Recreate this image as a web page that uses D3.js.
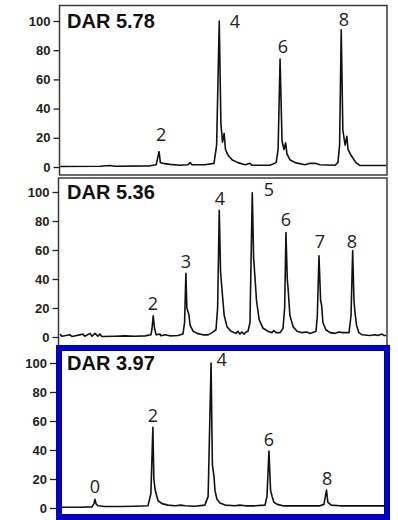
<!DOCTYPE html>
<html>
<head>
<meta charset="utf-8">
<script src="https://cdn.jsdelivr.net/npm/d3@7"></script>
<style>
  html, body { margin: 0; padding: 0; background: #fff; }
  svg { display: block; }
</style>
</head>
<body>
<div id="chart"></div>
<script>
// y ticks shared by all three chromatograms
const yTicks = [0, 20, 40, 60, 80, 100];
const darLabels = ['DAR 5.78', 'DAR 5.36', 'DAR 3.97'];

// traces: [retention (0-100 of run), intensity %]
const trace1 = [
  [0, 0.3], [12.2, 0.5], [15.3, 1.0], [16.8, 0.5], [27.5, 0.8], [29.4, 1.5],
  [30.3, 10.5], [30.7, 3], [31.5, 2.5], [33.6, 1.8], [36.7, 1.2], [39.1, 1.5],
  [39.8, 3], [40.4, 1.5], [44.3, 1.5], [47.1, 2.5], [47.9, 15], [48.7, 100],
  [49.2, 30], [49.7, 17], [50.2, 23], [50.6, 12], [51.4, 8], [52.6, 5],
  [54.4, 3], [56.6, 1.5], [58.1, 2.5], [58.7, 1.2], [64.2, 1.2], [66.1, 3],
  [66.7, 12], [67.3, 74], [67.9, 18], [68.5, 12], [69.0, 16.6], [69.4, 9],
  [70.3, 5], [71.9, 3], [74.9, 1.5], [76.5, 2.5], [78.0, 2.5], [79.5, 1.5],
  [84.1, 1.2], [85.0, 3], [85.5, 15], [86.0, 94], [86.5, 25], [87.2, 15],
  [87.7, 21], [88.1, 12], [89.0, 8], [89.6, 6], [90.5, 3], [91.7, 1.0], [100, 1.0]
];
const trace2 = [
  [0, 2], [0.6, 0.5], [3.1, 1.5], [3.7, 0.3], [7.0, 2], [7.6, 0.5], [9.2, 2.5],
  [9.8, 0.5], [10.7, 2.5], [11.6, 0.5], [12.2, 2], [12.8, 0.3], [16.8, 0.5],
  [19.9, 0.8], [22.9, 0.5], [26.0, 0.8], [27.8, 1.5], [28.1, 5], [28.5, 14.6],
  [28.9, 6], [29.4, 1.5], [30.6, 2], [30.9, 0.8], [32.1, 1.5], [33.6, 0.8],
  [36.1, 1], [37.6, 2], [38.1, 10], [38.5, 44], [38.8, 20], [39.4, 15.7],
  [39.8, 8], [40.7, 4], [41.9, 2.5], [43.7, 1.5], [45.3, 1.5], [46.5, 3],
  [47.7, 5], [48.2, 20], [48.7, 87.4], [49.1, 45], [49.6, 31], [50.2, 15],
  [51.1, 7], [52.3, 4], [53.8, 2.5], [54.4, 4], [55.0, 2], [55.6, 3.5],
  [56.3, 2], [56.9, 3.5], [57.5, 4], [58.1, 10], [58.8, 99.5], [59.2, 55],
  [59.6, 42], [60.1, 25], [60.9, 12], [62.1, 6], [63.6, 4], [64.8, 3],
  [65.4, 4.5], [66.1, 3], [67.3, 3], [68.2, 6], [68.7, 20], [69.1, 72],
  [69.5, 40], [69.8, 32], [70.3, 15], [71.3, 7], [72.5, 4], [74.0, 3],
  [75.5, 3.5], [76.3, 2.5], [77.1, 3], [78.3, 4], [78.7, 15], [79.2, 56],
  [79.7, 25], [80.0, 22], [80.4, 10], [81.3, 5], [82.6, 3], [84.1, 2.5],
  [85.2, 3.5], [86.5, 3], [88.4, 3], [89.0, 15], [89.5, 59.6], [89.9, 25],
  [90.2, 17], [90.7, 8], [91.4, 3], [92.4, 1.5], [94.8, 1], [96.3, 1.5],
  [97.2, 1], [98.5, 2], [99.1, 1], [100, 1]
];
const trace3 = [
  [0, 0.5], [6.1, 0.5], [9.8, 0.8], [10.4, 3], [10.7, 6], [11.0, 3], [11.6, 1.5],
  [13.8, 1], [18.3, 1], [22.9, 1.2], [26.9, 1.5], [27.8, 10], [28.4, 55.6],
  [28.7, 20], [29.1, 12.4], [29.5, 9], [30.0, 5], [31.2, 3], [33.0, 2],
  [35.2, 1.5], [37.0, 2], [38.2, 1.5], [41.3, 1.2], [44.3, 2], [45.3, 8],
  [46.2, 100], [46.6, 30], [47.1, 21.6], [47.4, 12], [48.0, 6], [48.9, 3.5],
  [50.5, 2], [53.5, 1.5], [55.0, 2], [56.6, 1.5], [59.6, 1.5], [62.7, 2],
  [63.3, 8], [63.9, 39.3], [64.4, 12], [64.9, 7.8], [65.4, 4], [66.4, 2.5],
  [68.2, 1.5], [73.4, 1.5], [79.5, 1.5], [80.7, 2.5], [81.5, 12.4], [81.9, 4],
  [82.9, 2], [85.6, 1.5], [100, 1.5]
];

// peak annotations: [text, retention, intensity]
const peaks1 = [['2', 30.9, 17.5], ['4', 53.5, 95.2], ['6', 68.2, 78], ['8', 86.8, 96.6]];
const peaks2 = [['2', 28.4, 18.6], ['3', 38.5, 47.6], ['4', 48.9, 91], ['5', 63.9, 97.2],
                ['6', 69.1, 76.6], ['7', 79.5, 61.4], ['8', 89.3, 61.4]];
const peaks3 = [['0', 10.7, 10.3], ['2', 28.4, 59.3], ['4', 49.4, 97.9], ['6', 63.9, 42.8], ['8', 81.7, 15.9]];

const width = 398;
const height = 520;

// panel boxes and where 0 / 100 sit inside them
const panels = [
  { trace: trace1, peaks: peaks1, dar: darLabels[0], box: [59.5, 5.5, 387, 175], y0: 167, y100: 21, axisX: 59.5, stroke: '#3a3a3a', sw: 1.5 },
  { trace: trace2, peaks: peaks2, dar: darLabels[1], box: [58.5, 178, 387, 346], y0: 337, y100: 192, axisX: 58.5, stroke: '#3a3a3a', sw: 1.5 },
  { trace: trace3, peaks: peaks3, dar: darLabels[2], box: [59, 348, 387, 517], y0: 508, y100: 363, axisX: 56, stroke: '#0000c4', sw: 6 }
];

const svg = d3.select('#chart').append('svg')
  .attr('width', width)
  .attr('height', height);

svg.append('rect').attr('width', width).attr('height', height).attr('fill', '#fff');

const x = d3.scaleLinear().domain([0, 100]).range([60, 387]);

panels.forEach((p, i) => {
  const [bx0, by0, bx1, by1] = p.box;
  const y = d3.scaleLinear().domain([0, 100]).range([p.y0, p.y100]);
  const g = svg.append('g');

  const inset = p.sw / 2;
  g.append('clipPath').attr('id', 'clip' + i)
    .append('rect')
    .attr('x', bx0 + inset).attr('y', by0 + inset)
    .attr('width', bx1 - bx0 - 2 * inset).attr('height', by1 - by0 - 2 * inset);

  const line = d3.line()
    .x((d) => x(d[0]))
    .y((d) => y(d[1]));

  g.append('path')
    .datum(p.trace)
    .attr('clip-path', `url(#clip${i})`)
    .attr('fill', 'none')
    .attr('stroke', '#111')
    .attr('stroke-width', 1.6)
    .attr('stroke-linejoin', 'round')
    .attr('d', line);

  g.append('rect')
    .attr('x', bx0).attr('y', by0)
    .attr('width', bx1 - bx0).attr('height', by1 - by0)
    .attr('fill', 'none')
    .attr('stroke', p.stroke)
    .attr('stroke-width', p.sw);

  // y axis (ticks sit outside the frame)
  const axis = g.append('g')
    .attr('transform', `translate(${p.axisX},0)`)
    .call(d3.axisLeft(y).tickValues(yTicks).tickSize(6).tickPadding(3).tickSizeOuter(0));
  axis.select('.domain').remove();
  axis.selectAll('line').attr('stroke', '#222').attr('stroke-width', 1.3);
  axis.selectAll('text')
    .attr('fill', '#222')
    .style('font-family', '"Liberation Sans", Arial, sans-serif')
    .style('font-weight', 'bold')
    .style('font-size', '13px');

  g.append('text')
    .attr('x', 67)
    .attr('y', y(100) + 7)
    .style('font-family', '"Liberation Sans", Arial, sans-serif')
    .style('font-weight', 'bold')
    .style('font-size', '20px')
    .attr('fill', '#111')
    .text(p.dar);

  g.selectAll('.peak-label')
    .data(p.peaks)
    .enter()
    .append('text')
    .attr('class', 'peak-label')
    .attr('x', (d) => x(d[1]))
    .attr('y', (d) => y(d[2]))
    .attr('text-anchor', 'middle')
    .style('font-family', '"Open Sans", "DejaVu Sans", sans-serif')
    .style('font-size', '18px')
    .attr('fill', '#222')
    .text((d) => d[0]);
});
</script>
</body>
</html>
